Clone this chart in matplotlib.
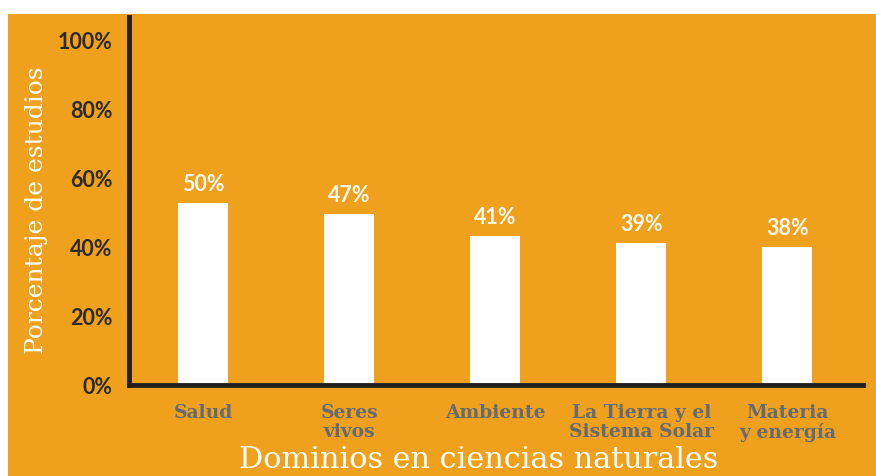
import numpy as np
import matplotlib.pyplot as plt
from matplotlib.patches import Rectangle

categorias = ['Salud', 'Seres\nvivos', 'Ambiente', 'La Tierra y el\nSistema Solar', 'Materia\ny energía']
etiquetas = ['50%', '47%', '41%', '39%', '38%']
alturas = [52.7, 49.5, 43.2, 41.1, 40.1]
ticks_y = [0, 20, 40, 60, 80, 100]

naranja = '#EFA01D'
oscuro = '#231F20'
gris = '#656B72'

fig = plt.figure(figsize=(8.76, 4.76), dpi=100, facecolor='white')
fig.patches.append(Rectangle((8 / 876, 0), 868 / 876, 462 / 476, transform=fig.transFigure,
                             facecolor=naranja, edgecolor='none', zorder=-10))

ax = fig.add_axes([129 / 876, 91 / 476, 734 / 876, 368 / 476])
ax.set_facecolor('none')

x = np.arange(len(categorias))
ax.bar(x, alturas, width=0.342, color='white', zorder=2)

for i in range(len(x)):
    ax.text(x[i], alturas[i] + 2.3, etiquetas[i], ha='center', va='bottom',
            color='#FFF9EC', fontsize=15.5, fontweight='bold', family='Lato')

ax.set_xlim(-0.506, 4.517)
ax.set_ylim(0, 106.7)

ax.set_yticks(ticks_y)
ax.set_yticklabels([f'{t}%' for t in ticks_y], fontsize=15.5, fontweight='bold',
                   color='#2B2B2B', family='Lato')
ax.set_xticks(x)
ax.set_xticklabels(categorias, fontsize=13.5, fontweight='bold', color=gris,
                   family='DejaVu Serif', linespacing=1.05, va='top')
ax.tick_params(axis='both', length=0)
ax.tick_params(axis='y', pad=12)
ax.tick_params(axis='x', pad=14)

for s in ['top', 'right']:
    ax.spines[s].set_visible(False)
for s in ['left', 'bottom']:
    ax.spines[s].set_color(oscuro)
    ax.spines[s].set_linewidth(3.5)

fig.text(37 / 876, 1 - 210 / 476, 'Porcentaje de estudios', rotation=90, ha='center', va='center',
         color='white', fontsize=18, family='DejaVu Serif')
fig.text(479 / 876, 1 - 460 / 476, 'Dominios en ciencias naturales', ha='center', va='center',
         color='white', fontsize=21.8, family='DejaVu Serif')

plt.savefig('out.png', dpi=100, facecolor=fig.get_facecolor())
